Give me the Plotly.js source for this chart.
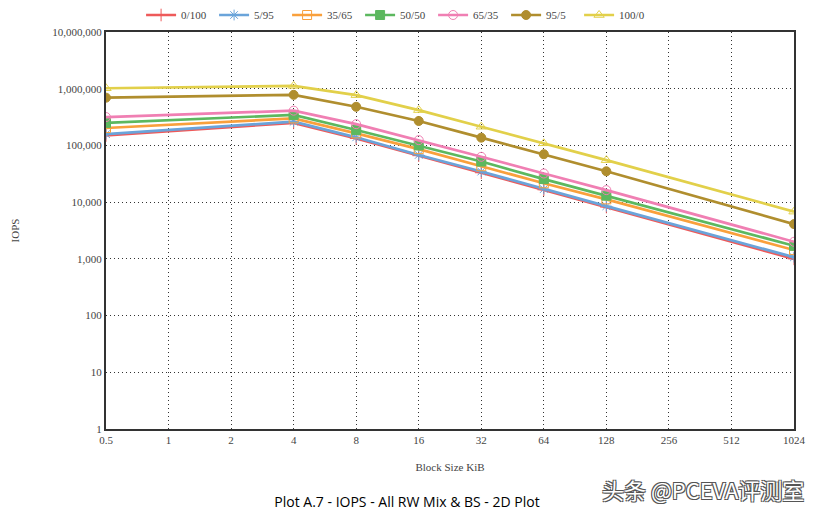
<!DOCTYPE html>
<html>
<head>
<meta charset="utf-8">
<script src="https://cdn.plot.ly/plotly-3.0.1.min.js"></script>
<style>html,body{margin:0;padding:0;background:#fff;}#chart{width:814px;height:514px;}</style>
</head>
<body>
<div id="chart"></div>
<script>
const blockSizes = [0.5, 4, 8, 16, 32, 64, 128, 1024];
const xTickVals = [0.5, 1, 2, 4, 8, 16, 32, 64, 128, 256, 512, 1024];
const xTickText = ["0.5", "1", "2", "4", "8", "16", "32", "64", "128", "256", "512", "1024"];
const yTickVals = [1, 10, 100, 1000, 10000, 100000, 1000000, 10000000];
const yTickText = ["1", "10", "100", "1,000", "10,000", "100,000", "1,000,000", "10,000,000"];

const seriesNames = ["0/100", "5/95", "35/65", "50/50", "65/35", "95/5", "100/0"];
const iops_0_100  = [150000, 250000, 133000, 66000, 33000, 16500, 8200, 1000];
const iops_5_95   = [158000, 262000, 139000, 68000, 34600, 17000, 8500, 1070];
const iops_35_65  = [203000, 300000, 163000, 86000, 43000, 21500, 11200, 1430];
const iops_50_50  = [250000, 345000, 187000, 100000, 52000, 25500, 13000, 1700];
const iops_65_35  = [316000, 410000, 237000, 124000, 63000, 32000, 16300, 2000];
const iops_95_5   = [695000, 780000, 480000, 270000, 137000, 70000, 35000, 4100];
const iops_100_0  = [1020000, 1120000, 770000, 420000, 214000, 109000, 55000, 6800];

const seriesValues = [iops_0_100, iops_5_95, iops_35_65, iops_50_50, iops_65_35, iops_95_5, iops_100_0];
const colors = ["#ee5a5a", "#6aa4da", "#f9a03c", "#5cb85f", "#f07fb3", "#b08e2e", "#e2d04a"];
const symbols = ["cross-thin-open", "asterisk-open", "square-open", "square", "circle-open", "circle", "triangle-up-open"];

const traces = seriesNames.map((name, i) => ({
  type: "scatter",
  mode: "lines+markers",
  name: name,
  x: blockSizes,
  y: seriesValues[i],
  line: {color: colors[i], width: 2.7},
  marker: {symbol: symbols[i], color: colors[i], size: 9, line: {color: colors[i], width: 1}}
}));

const serif = "Liberation Serif, DejaVu Serif, serif";
const axisCommon = {
  showline: true, mirror: true, linecolor: "#333", linewidth: 2,
  showgrid: true, gridcolor: "#333", gridwidth: 1, griddash: "1px,3px",
  zeroline: false, ticks: "",
  tickfont: {family: serif, size: 11, color: "#444"}
};

const layout = {
  width: 814, height: 514,
  margin: {l: 106, r: 20, t: 32, b: 85},
  paper_bgcolor: "#fff", plot_bgcolor: "#fff",
  showlegend: true,
  legend: {
    orientation: "h", xref: "paper", yref: "container",
    x: 0.051, y: 1 - 15/514, yanchor: "middle", xanchor: "left",
    font: {family: serif, size: 11, color: "#444"},
    entrywidth: 28, itemwidth: 30, tracegroupgap: 0
  },
  title: {
    text: "Plot A.7 - IOPS - All RW Mix & BS - 2D Plot",
    font: {family: "Open Sans, sans-serif", size: 14, color: "#000", weight: 500},
    x: 0.5, xref: "container", xanchor: "center", y: 1 - 502/514, yref: "container", yanchor: "middle"
  },
  xaxis: Object.assign({}, axisCommon, {
    type: "log",
    range: [Math.log10(0.5), Math.log10(1024)],
    tickvals: xTickVals, ticktext: xTickText,
    title: {text: "Block Size KiB", font: {family: serif, size: 11, color: "#444"}, standoff: 18}
  }),
  yaxis: Object.assign({}, axisCommon, {
    type: "log",
    range: [0, 7],
    tickvals: yTickVals, ticktext: yTickText,
    title: {text: "IOPS", font: {family: serif, size: 11, color: "#444"}, standoff: 30}
  }),
  annotations: [{
    text: "头条 @PCEVA评测室",
    xref: "paper", yref: "paper", x: (806 - 106) / 688, y: -(489 - 429) / 397, xanchor: "right", yanchor: "middle",
    showarrow: false,
    font: {family: "Noto Sans CJK SC, sans-serif", size: 22, color: "#ffffff",
           shadow: "1px 1px 0 #555, -1px -1px 0 #555, 1px -1px 0 #555, -1px 1px 0 #555"}
  }]
};

Plotly.newPlot("chart", traces, layout, {displayModeBar: false, staticPlot: true});
</script>
</body>
</html>
